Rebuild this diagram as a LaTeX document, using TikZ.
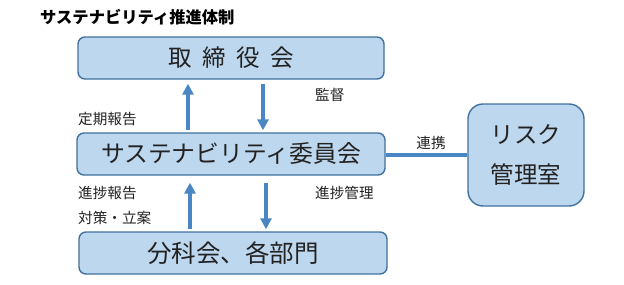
\documentclass[tikz,border=0pt]{standalone}
\usepackage{fontspec}
\setmainfont{Noto Sans CJK JP}
\usetikzlibrary{arrows.meta,calc}
\definecolor{boxfill}{HTML}{BDD7EE}
\definecolor{boxline}{HTML}{41719C}
\definecolor{arrcol}{HTML}{4A86C4}
\definecolor{txt}{HTML}{222222}
\tikzset{
  x=1pt,y=1pt,
  orgbox/.style={draw=boxline,line width=1.4pt,fill=boxfill,rounded corners=7pt,
    minimum width=306pt,minimum height=42pt,inner sep=0pt,text=txt,font=\fontsize{23.8}{26}\selectfont},
  riskbox/.style={orgbox,rounded corners=15pt,minimum width=116pt,minimum height=102pt,align=center,
    font=\fontsize{23.5}{40}\selectfont},
  lbl/.style={inner sep=0pt,text=txt,font=\fontsize{14.6}{16}\selectfont},
  arr/.style={draw=arrcol,line width=4.5pt,-{Triangle[width=11pt,length=11pt]}},
  link/.style={draw=arrcol,line width=3.5pt}
}
\begin{document}
\begin{tikzpicture}
\useasboundingbox (0,0) rectangle (624,-284);
\node[anchor=west,inner sep=0pt,text=black,font=\fontsize{16.3}{18}\selectfont\bfseries] (title) at (40,-17) {サステナビリティ推進体制};
\node[orgbox,minimum width=306pt,font=\fontsize{23.5}{26}\selectfont\addfontfeature{LetterSpace=45}] (board) at (231,-58) {取締役会};
\node[orgbox,minimum width=308pt] (comm) at (231,-154) {サステナビリティ委員会};
\node[orgbox,minimum width=308pt,font=\fontsize{24.5}{26}\selectfont] (div) at (233,-253) {分科会、各部門};
\node[riskbox] (risk) at (526,-155) {リスク\\管理室};
\draw[arr,shorten <=2pt,shorten >=4pt] (comm.north -| 188,0) -- (board.south -| 188,0);
\draw[arr,shorten <=4pt,shorten >=2pt] (board.south -| 263,0) -- (comm.north -| 263,0);
\draw[arr,shorten <=2pt,shorten >=7pt] (div.north -| 190,0) -- (comm.south -| 190,0);
\draw[arr,shorten <=7pt,shorten >=2pt] (comm.south -| 266,0) -- (div.north -| 266,0);
\draw[link] (comm.east |- 0,-155) -- (risk.west |- 0,-155);
\node[lbl,anchor=west] (l1) at (78,-119) {定期報告};
\node[lbl,anchor=west] (l2) at (315,-95) {監督};
\node[lbl,anchor=west] (l3) at (78,-193) {進捗報告};
\node[lbl,anchor=west] (l4) at (78,-218) {対策・立案};
\node[lbl,anchor=west] (l5) at (315,-193) {進捗管理};
\node[lbl] (l6) at (431,-143) {連携};
\end{tikzpicture}
\end{document}
